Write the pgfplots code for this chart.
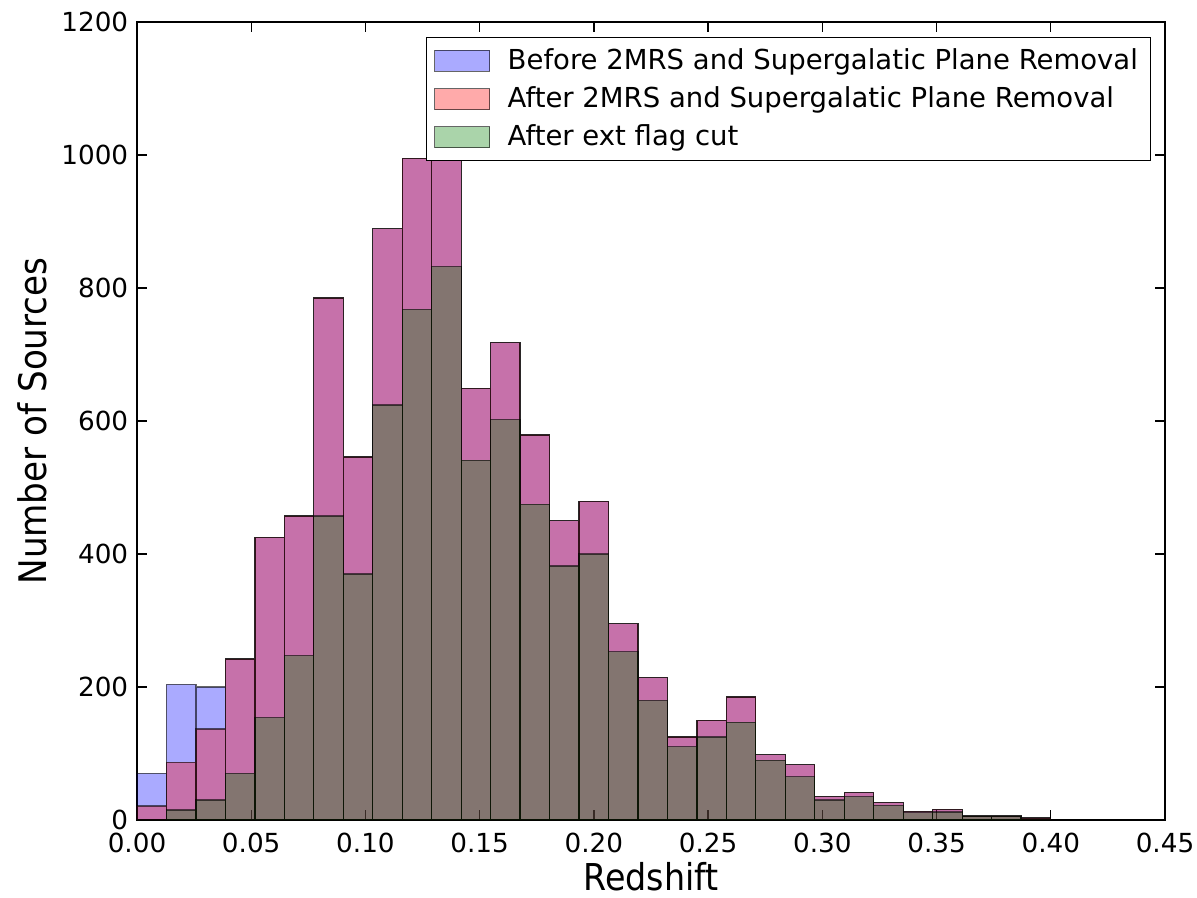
\documentclass[border=0pt]{standalone}
\usepackage{fontspec}
\setmainfont{DejaVu Sans}
\newfontfamily\condfont{DejaVu Sans Condensed}
\usepackage{pgfplots}
\usepackage{pgfplotstable}
\pgfplotsset{compat=1.18}
\pgfplotstableread{
x before after ext
0.0000 70 21 0
0.0129 204 87 15
0.0258 200 137 30
0.0387 242 242 70
0.0516 425 425 154
0.0645 457 457 247
0.0774 785 785 457
0.0903 546 546 370
0.1032 889 889 624
0.1161 995 995 768
0.1290 1000 1000 832
0.1419 649 649 541
0.1548 718 718 602
0.1677 579 579 475
0.1806 450 450 382
0.1935 479 479 400
0.2064 295 295 253
0.2193 214 214 180
0.2322 125 125 110
0.2451 150 150 125
0.2580 185 185 147
0.2709 98 98 90
0.2838 83 83 65
0.2967 35 35 30
0.3096 41 41 35
0.3225 26 26 22
0.3354 13 13 11
0.3483 16 16 12
0.3612 6 6 5
0.3741 6 6 5
0.3870 3 3 1
0.3999 0 0 0
}\histdata
\definecolor{mplgreen}{rgb}{0,0.5,0}
\begin{document}
\begin{tikzpicture}
\begin{axis}[
  name=ax,
  scale only axis,
  width=411.2pt, height=319.2pt,
  xmin=0, xmax=0.45, ymin=0, ymax=1200,
  xtick={0,0.05,0.10,0.15,0.20,0.25,0.30,0.35,0.40,0.45},
  ytick={0,200,400,600,800,1000,1200},
  scaled x ticks=false,
  tick align=inside,
  tick pos=both,
  major tick length=4pt,
  tick style={black, line width=0.5pt},
  axis line style={line width=0.6pt},
  /pgf/number format/assume math mode=true,
  xticklabel style={/pgf/number format/fixed, /pgf/number format/fixed zerofill, /pgf/number format/precision=2, yshift=-1.7pt},
  yticklabel style={/pgf/number format/1000 sep={}},
  tick label style={font=\fontsize{10.5}{12.6}\selectfont},
  xlabel={Redshift},
  ylabel={Number of Sources},
  every axis x label/.style={at={(rel axis cs:0.5,-0.0710)}, anchor=center, font=\condfont\fontsize{14.8}{17}\selectfont},
  every axis y label/.style={at={(rel axis cs:-0.1017,0.5)}, anchor=center, rotate=90, font=\condfont\fontsize{15.2}{18}\selectfont},
  legend style={at={(rel axis cs:0.9864,0.9812)}, anchor=north east, draw=black, fill=white, line width=0.5pt,
    font=\fontsize{11}{13}\selectfont, row sep=1.4pt, inner xsep=3pt, inner ysep=2.4pt},
  legend cell align=left,
  legend image code/.code={\draw[#1, line width=0.4pt] (0pt,-4.2pt) rectangle (22pt,4.2pt); \path (27pt,0pt);},
]
\addplot[ybar interval, fill=blue, fill opacity=0.333, draw=black, draw opacity=0.6, line width=0.5pt] table[x=x, y=before] {\histdata};
\addlegendentry{Before 2MRS and Supergalatic Plane Removal}
\addplot[ybar interval, fill=red, fill opacity=0.333, draw=black, draw opacity=0.6, line width=0.5pt] table[x=x, y=after] {\histdata};
\addlegendentry{After 2MRS and Supergalatic Plane Removal}
\addplot[ybar interval, fill=mplgreen, fill opacity=0.333, draw=black, draw opacity=0.6, line width=0.5pt] table[x=x, y=ext] {\histdata};
\addlegendentry{After ext flag cut}
\end{axis}
\pgfresetboundingbox
\path[use as bounding box] ([shift={(-54.8pt,-30.8pt)}]ax.south west) rectangle ([shift={(12.8pt,8.8pt)}]ax.north east);
\end{tikzpicture}
\end{document}
